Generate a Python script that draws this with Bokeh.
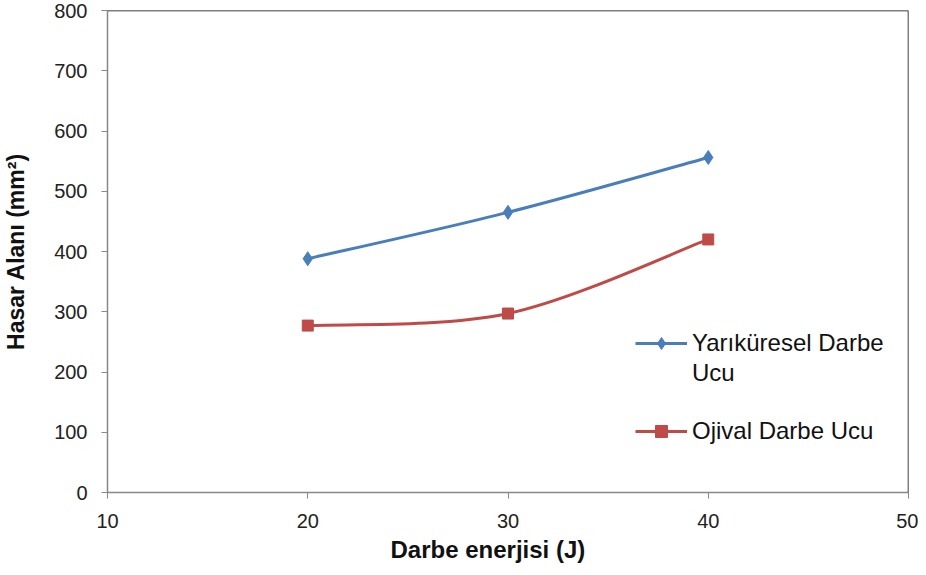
from bokeh.plotting import figure
from bokeh.models import Range1d, Span, Legend, LegendItem, FixedTicker, Title
from bokeh.embed import file_html
from bokeh.resources import INLINE

energy = [20, 30, 40]
yarikuresel = [388, 465, 556]
ojival = [277, 297, 420]
x_ticks = [10, 20, 30, 40, 50]
y_ticks = [0, 100, 200, 300, 400, 500, 600, 700, 800]

BLUE = "#4A7EBB"
RED = "#BE4B48"
FONT = "Liberation Sans"

p = figure(width=918, height=567, output_backend="svg", toolbar_location=None,
           x_range=Range1d(10, 50), y_range=Range1d(0, 800),
           min_border_left=105, min_border_right=10, min_border_top=10, min_border_bottom=75)
p.outline_line_color = None
p.grid.visible = False
p.background_fill_color = "white"
p.border_fill_color = "white"

for ax in (p.xaxis[0], p.yaxis[0]):
    ax.axis_line_color = "#888888"
    ax.axis_line_width = 1.5
    ax.major_tick_line_color = "#888888"
    ax.minor_tick_line_color = None
    ax.major_tick_out = 6
    ax.major_tick_in = 0
    ax.major_label_text_font = FONT
    ax.major_label_text_font_size = "20px"
    ax.major_label_text_color = "#222222"
    ax.axis_label_text_font = FONT
    ax.axis_label_text_font_style = "bold"
    ax.axis_label_text_color = "#111111"

p.xaxis[0].ticker = FixedTicker(ticks=x_ticks)
p.yaxis[0].ticker = FixedTicker(ticks=y_ticks)
p.yaxis[0].axis_label = "Hasar Alanı (mm²)"
p.yaxis[0].axis_label_text_font_size = "23px"
p.xaxis[0].major_label_standoff = 15
p.yaxis[0].major_label_standoff = 14
p.yaxis[0].axis_label_standoff = 22

xtitle = Title(text="Darbe enerjisi (J)", align="left", offset=283,
               text_font=FONT, text_font_size="24px", text_font_style="bold",
               text_color="#111111", standoff=7)
p.add_layout(xtitle, "below")

p.add_layout(Span(location=800, dimension="width", line_color="black", line_width=1.5))
p.add_layout(Span(location=50, dimension="height", line_color="black", line_width=1.5))


def smooth(xs, ys):
    n = len(xs)
    segs = {k: [] for k in ("x0", "y0", "x1", "y1", "cx0", "cy0", "cx1", "cy1")}
    for i in range(n - 1):
        im1 = max(i - 1, 0)
        ip2 = min(i + 2, n - 1)
        segs["x0"].append(xs[i]); segs["y0"].append(ys[i])
        segs["x1"].append(xs[i + 1]); segs["y1"].append(ys[i + 1])
        segs["cx0"].append(xs[i] + (xs[i + 1] - xs[im1]) / 6)
        segs["cy0"].append(ys[i] + (ys[i + 1] - ys[im1]) / 6)
        segs["cx1"].append(xs[i + 1] - (xs[ip2] - xs[i]) / 6)
        segs["cy1"].append(ys[i + 1] - (ys[ip2] - ys[i]) / 6)
    return segs


b1 = p.bezier(line_color=BLUE, line_width=3, **smooth(energy, yarikuresel))
m1 = p.scatter(energy, yarikuresel, marker="diamond", size=14, fill_color=BLUE, line_color=BLUE)
b2 = p.bezier(line_color=RED, line_width=3, **smooth(energy, ojival))
m2 = p.scatter(energy, ojival, marker="square", size=11, fill_color=RED, line_color=RED)
blank = p.line([], [], line_alpha=0)

common = dict(border_line_color=None, background_fill_alpha=0,
              label_text_font=FONT, label_text_font_size="24px", label_text_color="#111111",
              glyph_width=52, glyph_height=30, label_height=30, spacing=0,
              label_standoff=5, padding=0, margin=0)

legend1 = Legend(items=[
    LegendItem(label="Yarıküresel Darbe", renderers=[b1, m1]),
    LegendItem(label="Ucu", renderers=[blank]),
], location=(528, 104), **common)
legend2 = Legend(items=[
    LegendItem(label="Ojival Darbe Ucu", renderers=[b2, m2]),
], location=(528, 46), **common)
p.add_layout(legend1, "center")
p.add_layout(legend2, "center")

open("out.html", "w").write(file_html(p, INLINE))
